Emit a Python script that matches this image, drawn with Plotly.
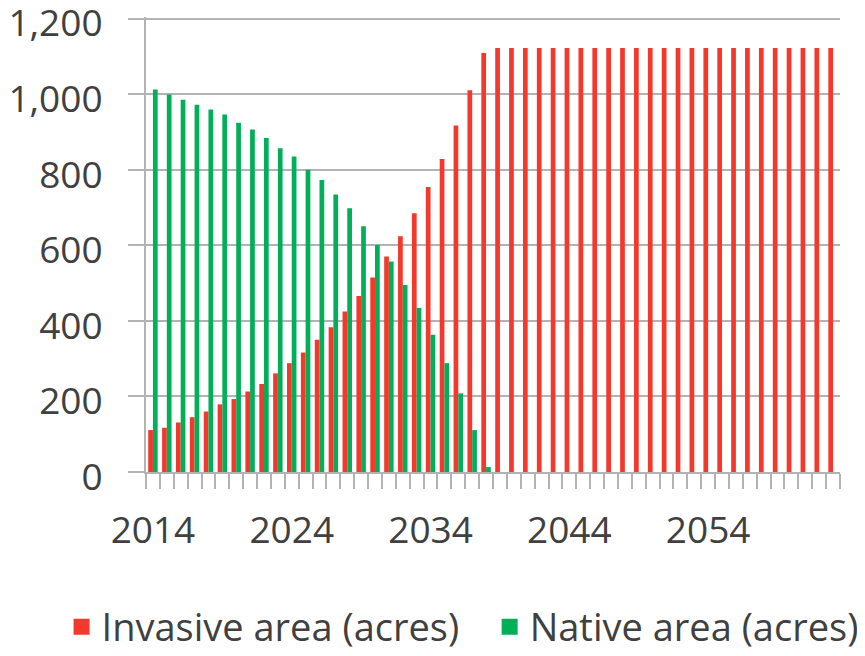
import plotly.graph_objects as go

years = list(range(2014, 2064))

invasive = [111, 117, 131, 145, 160, 179, 193, 213, 233, 261,
            288, 316, 350, 383, 425, 466, 515, 570, 624, 685,
            754, 828, 917, 1010, 1109] + [1122] * 25

native = [1012, 999, 985, 972, 959, 946, 924, 906, 884, 857,
          835, 800, 773, 734, 698, 650, 601, 557, 495, 434,
          363, 288, 208, 111, 13] + [0] * 25

tick_years = [2014, 2024, 2034, 2044, 2054]
y_ticks = [0, 200, 400, 600, 800, 1000, 1200]

RED = "#F4392C"
GREEN = "#00AF58"
TEXT = "#404040"
GRID = "#b3b3b3"
FONT = "Open Sans"
FS = 37

fig = go.Figure()
fig.add_trace(go.Bar(x=years, y=invasive, name="Invasive area (acres)",
                     marker=dict(color=RED, line=dict(width=0)), showlegend=False))
fig.add_trace(go.Bar(x=years, y=native, name="Native area (acres)",
                     marker=dict(color=GREEN, line=dict(width=0)), showlegend=False))
# legend proxies (no data points)
fig.add_trace(go.Scatter(x=[None], y=[None], mode="markers", name="Invasive area (acres)",
                         marker=dict(symbol="square", size=22, color=RED), legend="legend"))
fig.add_trace(go.Scatter(x=[None], y=[None], mode="markers", name="Native area (acres)",
                         marker=dict(symbol="square", size=22, color=GREEN), legend="legend2"))

legend_common = dict(orientation="h", xref="container", yref="container",
                     y=0.0448, xanchor="left", yanchor="middle",
                     font=dict(family=FONT, size=38, color=TEXT),
                     itemsizing="trace", itemwidth=30, bgcolor="rgba(0,0,0,0)")

fig.update_layout(
    width=857, height=648,
    margin=dict(l=138, r=25, t=9, b=184, autoexpand=False),
    paper_bgcolor="white", plot_bgcolor="white",
    barmode="group", bargap=0.32, bargroupgap=0,
    font=dict(family=FONT, size=FS, color=TEXT),
    legend=dict(x=0.0625, **legend_common),
    legend2=dict(x=0.562, **legend_common),
    xaxis=dict(range=[2013.5, 2063.5], tickvals=tick_years,
               ticktext=[str(t) for t in tick_years],
               ticks="", showgrid=False, zeroline=False, automargin=False,
               showline=True, linecolor=GRID, linewidth=2,
               ticklabelstandoff=25, ticklabeloverflow="allow",
               tickfont=dict(family=FONT, size=FS, color=TEXT),
               minor=dict(tick0=2013.5, dtick=1, ticks="outside", ticklen=15,
                          tickcolor=GRID, tickwidth=2, showgrid=False)),
    yaxis=dict(range=[0, 1204], tickvals=y_ticks, tickformat=",d",
               showgrid=True, gridcolor=GRID, gridwidth=2, automargin=False,
               zeroline=False, showline=True, linecolor=GRID, linewidth=2,
               ticks="outside", ticklen=16, tickcolor=GRID, tickwidth=2,
               ticklabelstandoff=18, ticklabelshift=5, ticklabeloverflow="allow",
               tickfont=dict(family=FONT, size=FS, color=TEXT)),
)

fig.write_html("out.html")
